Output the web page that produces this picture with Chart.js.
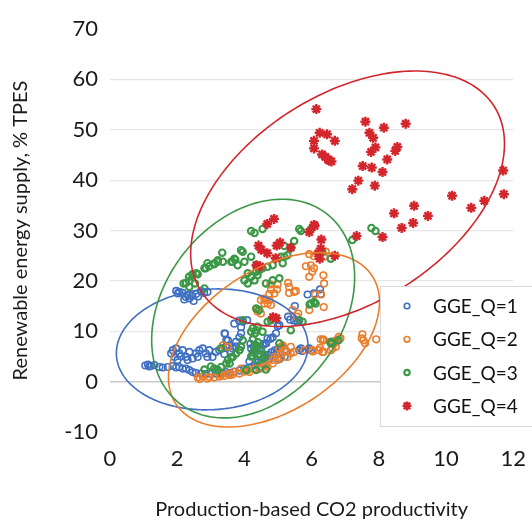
<!DOCTYPE html>
<html>
<head>
<meta charset="UTF-8">
<title>GGE quartiles</title>
<script src="https://cdn.jsdelivr.net/npm/chart.js@4.4.1/dist/chart.umd.min.js"></script>
<style>
  html, body { margin: 0; padding: 0; background: #fff; }
  #wrap { width: 532px; height: 522px; }
</style>
</head>
<body>
<div id="wrap"><canvas id="chart" width="532" height="522"></canvas></div>
<script>
// series labels
var seriesNames = ['GGE_Q=1', 'GGE_Q=2', 'GGE_Q=3', 'GGE_Q=4'];

// GGE_Q=1
var q1X = [1.97,2.06,2.16,2.26,2.36,2.49,2.56,2.71,2.80,2.21,2.90,2.02,2.31,2.62,2.45,
  1.87,1.92,1.97,2.06,2.16,2.26,2.36,2.46,2.56,2.66,2.76,2.85,2.95,3.05,3.15,3.25,2.01,2.31,2.61,2.90,1.82,2.11,
  3.35,3.45,3.55,3.65,3.75,3.85,3.40,3.60,
  1.13,1.22,1.32,1.47,1.57,1.72,1.87,1.97,2.06,2.16,2.26,2.36,2.46,2.56,2.71,2.85,3.00,3.15,3.25,1.17,1.05,
  3.35,3.45,3.56,3.70,3.85,4.00,4.10,4.20,4.30,4.40,4.50,4.60,4.70,4.80,4.90,5.00,5.10,4.45,4.55,4.65,4.75,4.85,4.95,4.15,4.25,4.35,4.45,4.55,4.65,4.20,4.30,
  3.70,3.90,3.41,3.46,3.75,3.51,3.85,3.90,3.85,3.95,4.08,4.99,4.94,4.84,4.69,4.64,4.39,4.30,5.30,5.36,5.48,5.58,5.50,5.88,6.07,6.25,6.27,5.68,5.93,5.98,5.73,5.63,5.04,5.20,5.25,5.05,
  3.42,4.18,4.58,4.78,5.09,5.19];
var q1Y = [18.0,17.8,17.6,16.8,16.5,16.0,17.4,18.0,17.6,16.3,17.8,17.5,17.2,16.9,17.0,
  6.25,4.9,6.6,5.6,6.25,4.9,5.9,4.6,5.6,6.25,6.6,5.6,6.25,4.9,5.9,6.25,4.3,4.3,4.9,4.9,5.6,5.0,
  6.6,6.9,7.2,6.6,7.0,6.3,5.5,5.8,
  3.4,3.1,3.3,2.9,2.8,2.9,3.1,2.8,2.9,2.6,2.6,2.3,1.9,1.7,1.6,1.5,1.5,1.6,1.7,3.0,3.2,
  1.6,1.9,1.7,2.0,2.2,2.6,2.3,2.9,3.3,3.8,4.3,4.8,5.3,5.8,6.2,6.5,6.9,2.9,3.5,4.0,4.5,5.0,5.5,4.0,5.2,6.0,6.6,7.2,7.6,6.6,7.2,
  11.5,10.8,9.6,8.2,7.9,8.2,8.8,9.6,12.1,11.9,12.2,11.0,9.6,8.8,8.6,7.6,6.9,6.25,12.9,12.3,12.1,11.9,15.0,17.3,17.5,18.3,17.4,6.6,6.6,6.25,6.1,6.25,11.2,5.0,6.0,4.5,
  9.5,7.5,7.5,8.5,6.8,6.3];

// GGE_Q=2
var q2X = [2.61,2.76,2.90,3.10,2.67,2.96,3.26,3.31,3.51,3.56,3.70,3.85,3.90,4.10,4.15,4.30,4.44,4.49,4.59,4.64,4.69,4.84,4.84,4.89,4.99,5.09,5.09,5.19,5.14,5.28,5.38,5.48,5.38,5.14,5.04,3.36,3.51,3.40,3.65,4.00,
  6.27,6.35,6.25,6.34,6.32,6.02,5.78,6.22,6.57,6.62,6.67,6.72,6.77,6.81,6.86,6.72,6.62,6.37,7.51,7.49,7.59,7.54,7.92,6.04,6.34,
  5.93,6.07,6.22,6.37,6.42,5.83,5.98,6.07,6.02,5.93,6.35,6.37,4.77,4.99,4.97,4.79,4.89,4.74,5.30,5.33,5.48,5.33,5.53,4.59,4.69,4.64,4.74,4.79,4.59,4.49,4.39,4.49,4.38,5.43,5.60,5.56,5.93,6.36,6.10,6.28];
var q2Y = [0.8,1.0,0.6,0.8,0.5,0.9,1.0,1.3,1.6,1.3,1.9,1.6,2.6,2.3,1.9,2.6,2.6,2.6,3.3,3.3,2.9,3.6,4.3,4.9,4.3,4.8,5.6,6.25,7.2,4.9,5.6,5.9,6.9,6.9,6.6,7.2,6.9,1.1,1.4,2.0,
  8.4,5.9,6.7,8.4,5.9,6.25,6.25,6.25,6.25,6.6,7.6,6.9,8.2,8.9,8.6,8.2,7.6,8.2,9.4,8.6,7.6,8.2,8.4,6.0,8.2,
  25.3,24.9,25.4,24.8,25.8,22.9,23.1,22.5,21.8,20.8,21.1,19.5,19.3,19.3,18.3,18.3,17.5,17.4,19.6,18.8,17.8,17.6,18.0,16.5,15.5,16.2,16.2,15.2,15.5,16.2,13.9,13.5,14.3,14.2,13.5,12.9,14.2,14.8,17.3,17.3];

// GGE_Q=3
var q3X = [2.19,2.26,2.36,2.46,2.61,2.53,2.36,2.81,2.85,2.95,3.10,3.20,2.90,2.35,2.45,2.57,2.81,3.11,3.21,3.36,3.64,3.73,3.34,3.90,3.95,3.61,3.70,3.80,4.00,4.20,4.35,4.44,4.54,4.69,4.84,5.09,5.14,5.28,4.10,4.20,4.30,4.35,4.39,4.00,4.10,4.64,4.84,5.04,
  4.20,4.30,4.54,5.63,5.68,5.98,5.48,5.19,5.38,5.19,6.57,6.32,7.78,7.90,7.21,
  4.35,4.44,4.69,4.79,4.25,4.35,4.39,4.20,4.32,5.38,5.98,6.07,6.12,3.95,5.63,5.73,4.54,5.94,
  3.51,3.56,3.61,3.31,3.21,3.46,3.65,3.75,3.85,3.90,3.95,2.81,3.10,4.05,4.35,4.64,4.20,4.25,4.30,4.35,4.40,4.45,4.50,4.55,4.60,4.25,4.40,5.04,6.57,6.80,6.57,3.00,3.30];
var q3Y = [19.5,19.6,20.0,21.1,21.3,19.5,18.8,18.5,22.5,22.9,23.3,23.8,23.5,20.8,21.3,21.5,22.5,23.5,24.1,23.8,23.8,24.2,25.6,26.1,25.8,23.8,24.4,23.1,23.8,24.8,23.1,22.1,22.5,22.8,23.1,24.8,23.5,25.1,21.5,20.8,20.1,21.8,21.1,20.1,19.5,19.5,20.1,20.5,
  29.9,29.5,30.3,30.3,29.9,30.3,27.9,26.9,26.6,24.8,24.4,25.8,30.5,29.9,28.1,
  14.5,14.2,11.9,12.2,10.6,10.2,10.9,9.9,9.6,10.2,15.5,15.8,15.5,12.2,12.2,11.9,9.9,15.3,
  4.3,3.6,4.9,2.9,2.3,3.6,4.9,5.6,6.25,6.9,8.2,2.4,2.6,2.3,2.3,2.4,5.0,5.8,6.5,7.2,7.8,5.5,6.2,4.6,5.3,8.4,4.2,7.6,7.6,8.2,7.9,3.0,6.6];

// GGE_Q=4
var q4X = [6.14,6.24,6.46,6.69,6.07,6.07,6.31,6.41,6.49,6.59,7.60,7.72,7.83,8.15,8.80,7.90,7.77,8.55,8.49,8.25,7.52,7.79,8.11,7.39,7.21,7.88,
  11.70,11.72,10.18,10.75,11.14,9.05,8.45,9.46,9.02,8.68,8.11,7.34,6.09,5.93,6.29,4.88,4.68,4.42,4.50,4.68,4.96,5.06,5.38,6.19,6.24,6.69,4.93,4.36,4.46,4.95,4.85,6.07,6.52,6.27];
var q4Y = [54.1,49.4,49.1,47.8,47.8,46.3,45.1,44.6,44.1,43.7,51.6,49.4,48.4,50.4,51.2,46.5,45.6,46.6,45.8,44.1,42.8,42.5,41.6,39.9,38.2,38.9,
  41.9,37.2,36.9,34.5,35.9,34.9,33.4,32.9,31.5,30.5,28.7,28.9,30.9,29.7,28.2,32.3,31.3,27.0,26.2,25.5,27.0,27.6,26.6,25.4,24.4,25.0,24.5,23.1,22.9,12.6,12.8,31.1,43.9,26.4];

// confidence ellipses: centre, conjugate half-diameters (data units)
var ellCx = [3.04, 4.88, 4.26, 7.07];
var ellCy = [6.4, 8.3, 14.5, 36.3];
var ellUx = [2.85, 3.14, 3.02, 4.67];
var ellUy = [0.76, 7.5, 6.2, 10.9];
var ellV  = [11.98, 15.6, 20.8, 22.9];

var colors = ['#3F6FC1', '#EA7D2C', '#3B9847', '#D3262C'];

function pts(xs, ys) {
    var out = [];
    for (var i = 0; i < xs.length; i++) out.push({x: xs[i], y: ys[i]});
    return out;
}

var ellipsePlugin = {
    id: 'ellipses',
    afterDatasetsDraw: function (chart) {
        var ctx = chart.ctx, sx = chart.scales.x, sy = chart.scales.y;
        ctx.save();
        ctx.lineWidth = 1.6;
        for (var k = 0; k < ellCx.length; k++) {
            ctx.strokeStyle = colors[k];
            ctx.beginPath();
            for (var s = 0; s <= 200; s++) {
                var t = s / 200 * Math.PI * 2;
                var x = ellCx[k] + ellUx[k] * Math.cos(t);
                var y = ellCy[k] + ellUy[k] * Math.cos(t) + ellV[k] * Math.sin(t);
                var px = sx.getPixelForValue(x), py = sy.getPixelForValue(y);
                if (s === 0) ctx.moveTo(px, py); else ctx.lineTo(px, py);
            }
            ctx.stroke();
        }
        ctx.restore();
    }
};

// legend box drawn inside the plot, bottom right
var legendBox = {
    id: 'legendBox',
    afterDraw: function (chart) {
        var ctx = chart.ctx;
        ctx.save();
        ctx.fillStyle = '#fff';
        ctx.strokeStyle = '#D9D9D9';
        ctx.lineWidth = 1;
        ctx.fillRect(380.5, 286.5, 160, 140);
        ctx.strokeRect(380.5, 286.5, 160, 140);
        ctx.font = '19px Lato';
        ctx.textBaseline = 'middle';
        chart.data.datasets.forEach(function (ds, i) {
            var y = 306 + i * 33.3;
            ctx.strokeStyle = ds.borderColor;
            ctx.fillStyle = ds.backgroundColor;
            ctx.lineWidth = ds.borderWidth;
            Chart.helpers.drawPoint(ctx, {
                pointStyle: ds.pointStyle, radius: ds.pointRadius - 0.5, borderWidth: ds.borderWidth, rotation: 0
            }, 407, y);
            ctx.fillStyle = '#111';
            ctx.fillText(ds.label, 433, y + 1);
        });
        ctx.restore();
    }
};

function ds(i, xs, ys, style, r, bw) {
    return {
        label: seriesNames[i],
        data: pts(xs, ys),
        pointStyle: style,
        pointRadius: r,
        pointHoverRadius: r,
        borderWidth: bw,
        borderColor: colors[i],
        backgroundColor: style === 'star' ? colors[i] : 'rgba(255,255,255,0)',
        order: 4 - i
    };
}

Chart.defaults.font.family = 'Lato';
Chart.defaults.color = '#1a1a1a';

var ctx = document.getElementById('chart').getContext('2d');
var chart = new Chart(ctx, {
    type: 'scatter',
    data: {
        datasets: [
            ds(0, q1X, q1Y, 'circle', 3.3, 1.6),
            ds(1, q2X, q2Y, 'circle', 3.3, 1.6),
            ds(2, q3X, q3Y, 'circle', 3.2, 2.1),
            ds(3, q4X, q4Y, 'star', 5, 2.4)
        ]
    },
    options: {
        responsive: false,
        animation: false,
        layout: { padding: { left: 0, right: 17, top: 29, bottom: 0 } },
        plugins: { legend: { display: false }, tooltip: { enabled: false } },
        scales: {
            x: {
                type: 'linear', min: 0, max: 12,
                ticks: { stepSize: 2, font: { size: 22 }, padding: 6, maxRotation: 0 },
                grid: { display: false },
                border: { display: false },
                title: { display: true, text: 'Production-based CO2 productivity', font: { size: 20 }, padding: { top: 0, bottom: 0 } },
                afterFit: function (scale) { scale.height = 90; }
            },
            y: {
                type: 'linear', min: -10, max: 70,
                ticks: { stepSize: 10, font: { size: 22 }, padding: 12 },
                grid: {
                    drawTicks: false,
                    color: function (c) {
                        var v = c.tick.value;
                        if (v === -10 || v === 70) return 'rgba(0,0,0,0)';
                        return v === 0 ? '#C9C9C9' : '#E6E6E6';
                    },
                    lineWidth: function (c) { return c.tick.value === 0 ? 1.5 : 1.2; }
                },
                border: { display: false },
                title: { display: true, text: 'Renewable energy supply, % TPES', font: { size: 20 }, padding: { top: 9, bottom: 0 } },
                afterFit: function (scale) { scale.width = 110; }
            }
        }
    },
    plugins: [ellipsePlugin, legendBox]
});
</script>
</body>
</html>
